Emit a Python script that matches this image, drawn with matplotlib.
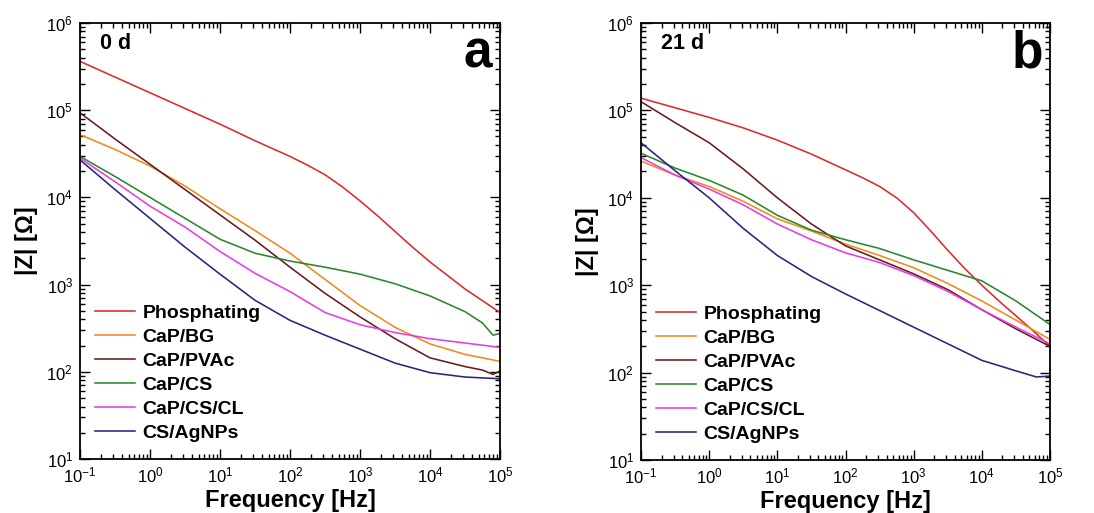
import numpy as np
import matplotlib
matplotlib.use("Agg")
import matplotlib.pyplot as plt
from matplotlib.ticker import FixedLocator, NullFormatter, LogFormatterSciNotation

plt.rcParams['font.family'] = ['Liberation Sans', 'DejaVu Sans']
plt.rcParams['mathtext.fontset'] = 'custom'
plt.rcParams['mathtext.rm'] = 'Liberation Sans'
plt.rcParams['mathtext.it'] = 'Liberation Sans:italic'
plt.rcParams['mathtext.bf'] = 'Liberation Sans:bold'
plt.rcParams['axes.unicode_minus'] = False

series_names = ["Phosphating", "CaP/BG", "CaP/PVAc", "CaP/CS", "CaP/CS/CL", "CS/AgNPs"]
series_colors = ["#dc2b2b", "#f08a1e", "#6a1c1c", "#2a882a", "#e63ce6", "#26267e"]

# Bode modulus: log10 frequency [Hz] and log10 |Z| [Ohm]
half = [-1, -0.5, 0, 0.5, 1, 1.5, 2, 2.5, 3, 3.5, 4, 4.5, 5]

# ---- 0 days ----
phos_a_f = [-1, 0, 1, 1.5, 2, 2.25, 2.5, 2.75, 3, 3.25, 3.5, 3.75, 4, 4.5, 5]
phos_a   = [5.56, 5.20, 4.84, 4.65, 4.47, 4.37, 4.26, 4.12, 3.96, 3.79, 3.61, 3.43, 3.26, 2.95, 2.68]
bg_a_f   = half
bg_a     = [4.72, 4.55, 4.36, 4.13, 3.87, 3.62, 3.36, 3.06, 2.76, 2.51, 2.32, 2.20, 2.12]
pvac_a_f = [-1, -0.5, 0, 0.5, 1, 1.5, 2, 2.5, 3, 3.5, 4, 4.5, 4.75, 4.9, 5]
pvac_a   = [4.97, 4.67, 4.38, 4.09, 3.80, 3.51, 3.20, 2.90, 2.63, 2.38, 2.16, 2.06, 2.02, 1.97, 2.01]
cs_a_f   = [-1, -0.5, 0, 0.5, 1, 1.5, 2, 2.5, 3, 3.5, 4, 4.5, 4.75, 4.9, 5]
cs_a     = [4.47, 4.24, 4.00, 3.76, 3.52, 3.36, 3.27, 3.20, 3.12, 3.01, 2.87, 2.69, 2.56, 2.42, 2.44]
cscl_a_f = half
cscl_a   = [4.45, 4.18, 3.90, 3.66, 3.38, 3.13, 2.92, 2.68, 2.54, 2.45, 2.38, 2.33, 2.28]
ag_a_f   = half
ag_a     = [4.43, 4.09, 3.76, 3.43, 3.12, 2.82, 2.59, 2.42, 2.26, 2.10, 1.99, 1.94, 1.92]

# ---- 21 days ----
phos_b_f = [-1, 0, 0.5, 1, 1.5, 2, 2.25, 2.5, 2.75, 3, 3.25, 3.5, 3.75, 4, 4.25, 4.5, 4.75, 5]
phos_b   = [5.14, 4.92, 4.80, 4.66, 4.50, 4.32, 4.23, 4.13, 4.00, 3.83, 3.62, 3.40, 3.19, 3.00, 2.82, 2.65, 2.48, 2.30]
bg_b_f   = half
bg_b     = [4.42, 4.26, 4.13, 3.96, 3.76, 3.62, 3.47, 3.34, 3.20, 3.02, 2.82, 2.60, 2.38]
pvac_b_f = half
pvac_b   = [5.10, 4.86, 4.63, 4.33, 4.00, 3.70, 3.45, 3.29, 3.13, 2.95, 2.72, 2.50, 2.30]
cs_b_f   = half
cs_b     = [4.51, 4.34, 4.20, 4.03, 3.80, 3.63, 3.52, 3.42, 3.29, 3.17, 3.05, 2.82, 2.55]
cscl_b_f = half
cscl_b   = [4.46, 4.26, 4.10, 3.92, 3.70, 3.52, 3.37, 3.26, 3.11, 2.93, 2.72, 2.52, 2.33]
ag_b_f   = [-1, -0.5, 0, 0.5, 1, 1.5, 2, 2.5, 3, 3.5, 4, 4.5, 4.8, 5]
ag_b     = [4.63, 4.31, 4.00, 3.65, 3.34, 3.10, 2.90, 2.71, 2.52, 2.33, 2.14, 2.02, 1.95, 1.96]

x_decades = [-1, 0, 1, 2, 3, 4, 5]
y_decades = [1, 2, 3, 4, 5, 6]

panels = [
    ("0 d", "a", [(phos_a_f, phos_a), (bg_a_f, bg_a), (pvac_a_f, pvac_a),
                  (cs_a_f, cs_a), (cscl_a_f, cscl_a), (ag_a_f, ag_a)]),
    ("21 d", "b", [(phos_b_f, phos_b), (bg_b_f, bg_b), (pvac_b_f, pvac_b),
                   (cs_b_f, cs_b), (cscl_b_f, cscl_b), (ag_b_f, ag_b)]),
]


def minor_positions(decades):
    return [m * 10.0 ** d for d in decades[:-1] for m in range(2, 10)]


W, H = 1094, 513
fig = plt.figure(figsize=(W / 100, H / 100), dpi=100)
rects = [(80, 23, 420, 436), (641, 23, 409, 437)]

for (day, letter, curves), (x0, y0, w, h) in zip(panels, rects):
    ax = fig.add_axes([x0 / W, 1 - (y0 + h) / H, w / W, h / H])
    for name, color, (lf, lz) in zip(series_names, series_colors, curves):
        ax.plot(10 ** np.array(lf), 10 ** np.array(lz), color=color, lw=1.15, label=name)
    ax.set_xscale("log")
    ax.set_yscale("log")
    ax.set_xlim(1e-1, 1e5)
    ax.set_ylim(1e1, 1e6)
    ax.xaxis.set_major_locator(FixedLocator([10.0 ** d for d in x_decades]))
    ax.yaxis.set_major_locator(FixedLocator([10.0 ** d for d in y_decades]))
    ax.xaxis.set_major_formatter(LogFormatterSciNotation())
    ax.yaxis.set_major_formatter(LogFormatterSciNotation())
    ax.xaxis.set_minor_locator(FixedLocator(minor_positions(x_decades)))
    ax.yaxis.set_minor_locator(FixedLocator(minor_positions(y_decades)))
    ax.xaxis.set_minor_formatter(NullFormatter())
    ax.yaxis.set_minor_formatter(NullFormatter())
    ax.tick_params(which="both", direction="in", top=True, right=True, width=1.0)
    ax.tick_params(which="major", length=7, labelsize=12, pad=5)
    ax.tick_params(which="minor", length=3.5)
    for s in ax.spines.values():
        s.set_linewidth(1.3)
    ax.set_xlabel("Frequency [Hz]", fontsize=17, fontweight="bold", labelpad=2)
    ax.set_ylabel("|Z| [\u03a9]", fontsize=17, fontweight="bold", labelpad=6)
    ax.text(0.048, 0.978, day, transform=ax.transAxes, fontsize=15.5,
            fontweight="bold", va="top", ha="left")
    ax.text(0.982, 0.985, letter, transform=ax.transAxes, fontsize=37,
            fontweight="bold", va="top", ha="right")
    ax.legend(loc="lower left", bbox_to_anchor=(15 / w, 17 / h), frameon=False,
              prop={"weight": "bold", "size": 14},
              handlelength=2.05, handletextpad=0.4, labelspacing=0.33,
              borderpad=0, borderaxespad=0)

fig.savefig("out.png", dpi=100)
